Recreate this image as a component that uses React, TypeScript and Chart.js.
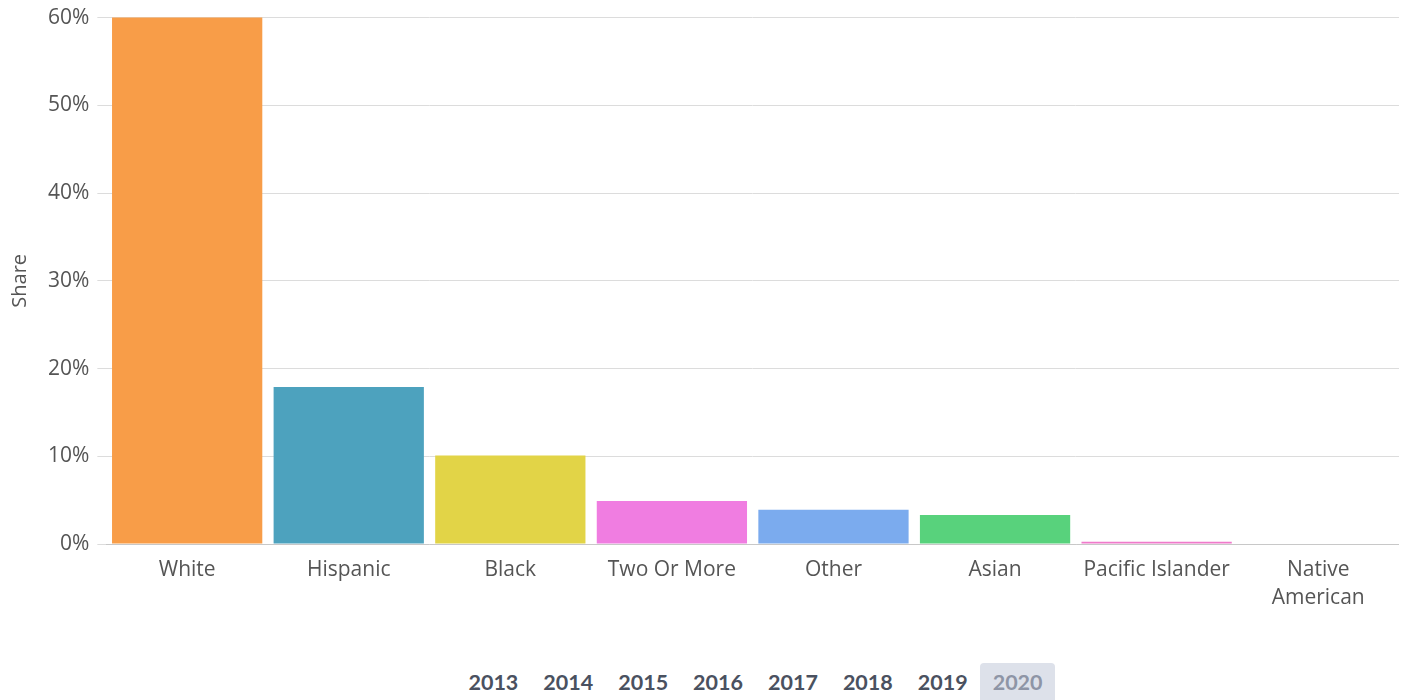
import React, { useEffect, useRef } from "react";
import { Chart, registerables } from "chart.js";

Chart.register(...registerables);

const categories: (string | string[])[] = [
  "White",
  "Hispanic",
  "Black",
  "Two Or More",
  "Other",
  "Asian",
  "Pacific Islander",
  ["Native", "American"],
];
const shareValues = [60.5, 17.9, 10.1, 4.9, 3.9, 3.3, 0.25, 0.05];
const barColors = [
  "#F89D48",
  "#4DA2BE",
  "#E2D447",
  "#F07DE1",
  "#7BABEE",
  "#58D27C",
  "#F07ACB",
  "#E7A0C0",
];
const yTicks = [0, 10, 20, 30, 40, 50, 60];
const years = ["2013", "2014", "2015", "2016", "2017", "2018", "2019", "2020"];
const activeYear = "2020";

export default function App() {
  const canvasRef = useRef<HTMLCanvasElement | null>(null);

  useEffect(() => {
    if (!canvasRef.current) return;
    const chart = new Chart(canvasRef.current, {
      type: "bar",
      data: {
        labels: categories,
        datasets: [
          {
            data: shareValues,
            backgroundColor: barColors,
            borderWidth: 0,
            categoryPercentage: 1,
            barPercentage: 0.93,
          },
        ],
      },
      options: {
        animation: false,
        responsive: true,
        maintainAspectRatio: false,
        layout: { padding: { top: 0, right: 0, bottom: 0, left: 0 } },
        plugins: { legend: { display: false }, tooltip: { enabled: false } },
        scales: {
          x: {
            grid: { display: false, drawTicks: false },
            border: { display: true, color: "#C8C8C8", width: 1 },
            ticks: {
              color: "#555555",
              font: { family: "Open Sans", size: 21, lineHeight: 1.38 },
              padding: 11,
              maxRotation: 0,
              autoSkip: false,
            },
          },
          y: {
            min: 0,
            max: 60,
            afterBuildTicks: (axis: any) => {
              axis.ticks = yTicks.map((v) => ({ value: v }));
            },
            grid: { color: "#DCDCDC", lineWidth: 1, tickLength: 9 },
            border: { display: false },
            title: {
              display: true,
              text: "Share",
              color: "#555555",
              font: { family: "Open Sans", size: 20 },
              padding: { top: 0, bottom: 8 },
            },
            ticks: {
              color: "#555555",
              font: { family: "Open Sans", size: 21 },
              padding: 8,
              callback: (v: any) => `${v}%`,
            },
          },
        },
      },
    });
    return () => chart.destroy();
  }, []);

  return (
    <div style={{ width: "100%", fontFamily: "Open Sans" }}>
      <div style={{ position: "relative", width: "100%", height: 627, marginTop: -11 }}>
        <canvas ref={canvasRef} />
      </div>
      <div
        style={{
          display: "flex",
          justifyContent: "center",
          paddingLeft: 104,
          marginTop: 39,
          height: 37,
          alignItems: "stretch",
        }}
      >
        {years.map((y) => (
          <div
            key={y}
            style={{
              padding: "0 12.5px",
              display: "flex",
              alignItems: "center",
              fontFamily: "Lato",
              fontWeight: 700,
              fontSize: 21.5,
              color: y === activeYear ? "#8E95A6" : "#4A5160",
              background: y === activeYear ? "#DDE1EA" : "transparent",
              borderRadius: "4px 4px 0 0",
            }}
          >
            {y}
          </div>
        ))}
      </div>
    </div>
  );
}
